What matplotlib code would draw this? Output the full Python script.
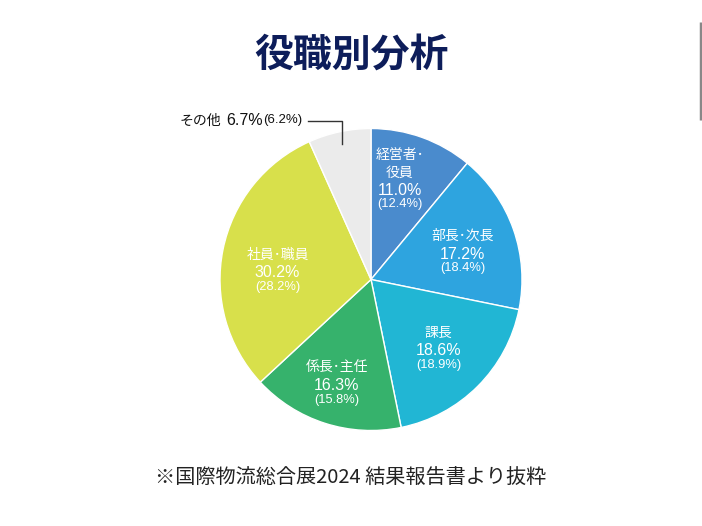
import numpy as np
import matplotlib
matplotlib.use('Agg')
import matplotlib.pyplot as plt

plt.rcParams['font.family'] = ['Noto Sans CJK JP', 'DejaVu Sans']
NUM_FONT = ['Liberation Sans', 'DejaVu Sans']

# data
categories = ['経営者･\n役員', '部長･次長', '課長', '係長･主任', '社員･職員', 'その他']
share_2024 = [11.0, 17.2, 18.6, 16.3, 30.2, 6.7]
share_prev = [12.4, 18.4, 18.9, 15.8, 28.2, 6.2]
colors = ['#4a8bcd', '#2ea4df', '#21b6d4', '#36b26c', '#d8e04b', '#ebebeb']

title = '役職別分析'
source = '※国際物流総合展2024 結果報告書より抜粋'

W, H = 702, 526
fig = plt.figure(figsize=(W / 100, H / 100), dpi=100)
fig.patch.set_facecolor('white')
ax = fig.add_axes([0, 0, 1, 1])

cx, cy, R = 371, H - 279.5, 151
wedges, _ = ax.pie(share_2024, colors=colors, startangle=90, counterclock=False,
                   center=(cx, cy), radius=R, frame=True,
                   wedgeprops=dict(edgecolor='white', linewidth=1))
ax.set_xlim(0, W)
ax.set_ylim(0, H)
ax.set_aspect('equal')
ax.axis('off')

# label placement inside wedges (radius factor, angle shift in degrees)
label_r = [0.62, 0.63, 0.65, 0.74, 0.62]
label_shift = [2, -4, -1.5, 0, 7.5]
for i, w in enumerate(wedges[:5]):
    mid = np.deg2rad((w.theta1 + w.theta2) / 2 + label_shift[i])
    x = cx + label_r[i] * R * np.cos(mid)
    y = cy + label_r[i] * R * np.sin(mid)
    names = categories[i].split('\n')
    for k, nm in enumerate(reversed(names)):
        ax.text(x, y + 18 + 17 * k, nm, ha='center', va='center',
                color='white', fontsize=10)
    ax.text(x, y, f'{share_2024[i]:.1f}%', ha='center', va='center',
            color='white', fontsize=11.5, family=NUM_FONT)
    ax.text(x, y - 14, f'({share_prev[i]:.1f}%)', ha='center', va='center',
            color='white', fontsize=9.3, family=NUM_FONT)

# その他 - outside label with leader line
w = wedges[5]
mid = np.deg2rad((w.theta1 + w.theta2) / 2)
ex = cx + R * 0.92 * np.cos(mid)
ey = cy + R * 0.92 * np.sin(mid)
ty = H - 120.5
ax.plot([308, ex, ex], [ty, ty, ey], color='#333333', linewidth=1)

renderer = fig.canvas.get_renderer()
inv = ax.transData.inverted()
x0 = 180
pieces = [(categories[5], 10, None, 5),
          (f'{share_2024[5]:.1f}%', 11.5, NUM_FONT, 0),
          (f'({share_prev[5]:.1f}%)', 9.5, NUM_FONT, 0)]
for txt, fs, fam, gap in pieces:
    kw = dict(family=fam) if fam else {}
    t = ax.text(x0, ty, txt, ha='left', va='center', color='#111111',
                fontsize=fs, **kw)
    bb = t.get_window_extent(renderer=renderer)
    x0 = inv.transform((bb.x1, 0))[0] + gap

# title and source
ax.text(W / 2, H - 55, title, ha='center', va='center', color='#0d1d5a',
        fontsize=28, fontweight='bold')
ax.text(W / 2, H - 478, source, ha='center', va='center', color='#222222',
        fontsize=14.5)

# scrollbar remnant on the right edge
ax.plot([700.5, 700.5], [H - 22, H - 120], color='#888888', linewidth=2.5,
        solid_capstyle='butt')

fig.savefig('out.png', dpi=100, facecolor='white')
plt.close(fig)
